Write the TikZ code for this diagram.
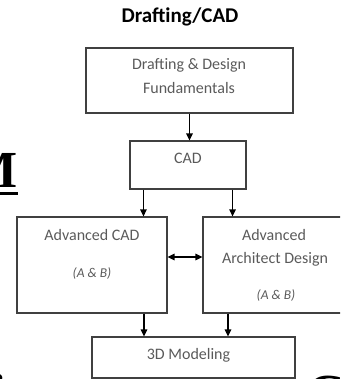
\documentclass[tikz,border=0pt]{standalone}
\usepackage{fontspec}
\setmainfont{Carlito}
\newfontfamily\tnr{Liberation Serif}
\usetikzlibrary{arrows.meta}
\definecolor{boxc}{HTML}{404040}
\definecolor{txtc}{HTML}{5A5A5A}
\begin{document}
\begin{tikzpicture}[x=1pt,y=-1pt,
  box/.style={draw=boxc,line width=1.1pt,inner sep=0pt,rectangle},
  txt/.style={text=txtc,font=\fontsize{16}{19}\selectfont,inner sep=0pt,anchor=base},
  small/.style={text=txtc,font=\fontsize{13.5}{16}\selectfont\itshape,inner sep=0pt,anchor=base},
  big/.style={font=\tnr\bfseries\fontsize{52}{52}\selectfont,inner sep=0pt},
  arr/.style={-{Triangle[length=7pt,width=6.5pt]},line width=1.2pt},
  darr/.style={{Triangle[length=7pt,width=6.5pt]}-{Triangle[length=7pt,width=6.5pt]},line width=1.2pt}]
\useasboundingbox (0,0) rectangle (340,379);
\clip (0,0) rectangle (340,379);
% boxes
\node[box,minimum width=207pt,minimum height=65pt] (b1) at (189.5,80.5) {};
\node[box,minimum width=116pt,minimum height=48pt] (cad) at (188,165) {};
\node[box,minimum width=150pt,minimum height=96pt] (acad) at (92,265) {};
\node[box,minimum width=144pt,minimum height=96pt] (arch) at (275,265) {};
\node[box,minimum width=203pt,minimum height=41pt] (mod) at (193.5,357.5) {};
% texts
\node[inner sep=0pt,anchor=base,font=\bfseries\fontsize{21}{24}\selectfont] (title) at (180,23) {Drafting/CAD};
\node[txt] (t1a) at (189,70) {Drafting \& Design};
\node[txt] (t1b) at (189,94) {Fundamentals};
\node[txt] (t2) at (188,164) {CAD};
\node[txt] (t3a) at (92,240) {Advanced CAD};
\node[small] (t3b) at (92,277) {(A \& B)};
\node[txt] (t4a) at (274,240) {Advanced};
\node[txt] (t4b) at (275,263) {Architect Design};
\node[small] (t4c) at (276,299) {(A \& B)};
\node[txt] (t5) at (188.5,359) {3D Modeling};
% connectors
\draw[arr] (b1.south) -- (b1.south |- cad.north);
\draw[arr] ([xshift=14pt]cad.south west) -- ([xshift=14pt]cad.south west |- acad.north);
\draw[arr] ([xshift=-14pt]cad.south east) -- ([xshift=-14pt]cad.south east |- arch.north);
\draw[darr] ([yshift=8pt]acad.east) -- ([yshift=8pt]acad.east -| arch.west);
\draw[arr] ([xshift=52pt]acad.south) -- ([xshift=52pt]acad.south |- mod.north);
\draw[arr] ([xshift=-47pt]arch.south) -- ([xshift=-47pt]arch.south |- mod.north);
% background fragments
\node[big,anchor=base east] (fm) at (17.5,187) {M};
\fill (-20,192) rectangle (17.5,195);
\node[big,anchor=base west] (fc) at (307,410) {C};
\node[big,anchor=base west] (fi) at (-9,410) {i};
\end{tikzpicture}
\end{document}
